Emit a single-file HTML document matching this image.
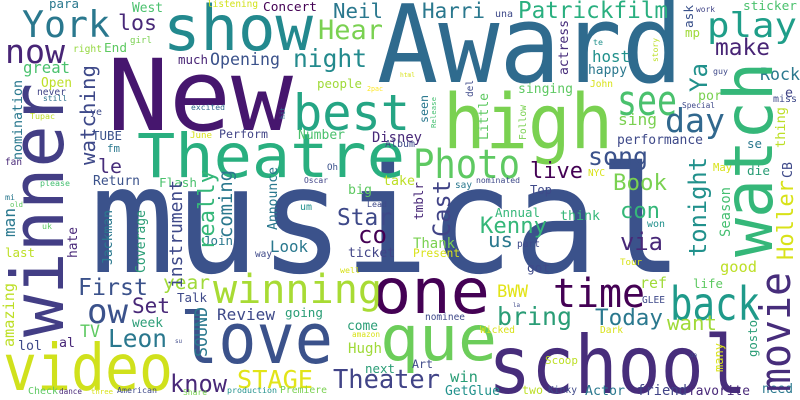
<!DOCTYPE html>
<html><head><meta charset="utf-8"><style>
html,body{margin:0;padding:0;background:#fff;}
svg{display:block;}
text{font-family:"DejaVu Sans Mono","Liberation Mono",monospace;}
</style></head><body>
<svg id="cloud" width="800" height="400" viewBox="0 0 800 400" xmlns="http://www.w3.org/2000/svg">
<rect width="800" height="400" fill="#ffffff"/>
</svg>
<script>
// horizontal words: [text, x0, baseline, width, color, fontSize(optional)]
const hWords = [
 ["New",107,130,186,"#46166e",99],
 ["Award",377,82,306,"#2f6b8e",108],
 ["show",163,50,150,"#23898e",62],
 ["musical",90,272,593,"#3b528b",148],
 ["high",443,148,170,"#7ad151",76],
 ["school",488,393,259,"#472d7b",80],
 ["love",180,363,153,"#3b528b",70],
 ["Theatre",137,177,268,"#29af7f",61],
 ["best",293,130,117,"#25a584",50],
 ["one",372,313,118,"#440154",62],
 ["que",380,360,117,"#6ccd5a",62],
 ["video",3,390,170,"#d0e11c",64],
 ["back",670,320,90,"#1f9a8a",46],
 ["time",553,307,92,"#440154",40],
 ["Photo",413,178,107,"#5ec962",40],
 ["see",617,115,60,"#4ac16d",42],
 ["play",707,37,90,"#1f9e89",34],
 ["York",22,37,88,"#2a788e"],
 ["now",5,63,60,"#482576"],
 ["para",49,8,30,"#2a788e"],
 ["los",118,30,39,"#482878"],
 ["West",132,12,31,"#4ac16d"],
 ["listening",207,7,51,"#d2e21b"],
 ["Concert",263,11,54,"#440154"],
 ["Neil",333,18,50,"#2a788e"],
 ["Hear",318,39,65,"#7ad151"],
 ["night",293,67,74,"#238a8d"],
 ["right",73,52,29,"#95d840"],
 ["End",104,52,23,"#5ec962"],
 ["girl",130,43,22,"#7ad151"],
 ["much",178,64,30,"#482475"],
 ["Opening",210,65,70,"#3b528b"],
 ["great",23,73,47,"#4ac16d"],
 ["Open",41,87,31,"#bddf26"],
 ["never",37,95,29,"#414487"],
 ["still",43,101,24,"#2c728e"],
 ["Tupac",30,119,25,"#bddf26"],
 ["ye",90,115,12,"#3e4a89"],
 ["excited",191,110,34,"#31688e"],
 ["people",317,88,45,"#a0da39"],
 ["2pac",367,91,16,"#fde725"],
 ["TUBE",92,140,30,"#3b528b"],
 ["Perform",219,138,49,"#414487"],
 ["June",190,138,22,"#d8e219"],
 ["Number",298,139,47,"#4ac16d"],
 ["Disney",372,142,50,"#482878"],
 ["fm",107,152,13,"#2a788e"],
 ["le",98,173,24,"#472d7b"],
 ["fan",5,165,17,"#482878"],
 ["Return",93,185,47,"#3b528b"],
 ["Flash",159,187,38,"#4ac16d"],
 ["please",40,186,30,"#44bf70"],
 ["Oh",327,170,11,"#3b528b"],
 ["Oscar",304,183,24,"#414487"],
 ["big",348,194,24,"#5ec962"],
 ["take",383,185,32,"#bddf26"],
 ["mi",5,200,10,"#2a788e"],
 ["Harri",422,18,63,"#2a788e"],
 ["una",495,17,18,"#3e4989"],
 ["Patrickfilm",518,18,150,"#29af7f"],
 ["work",696,12,19,"#414487"],
 ["sticker",743,10,54,"#4ac16d"],
 ["mp",685,37,15,"#a0da39"],
 ["make",715,55,55,"#482475"],
 ["te",593,45,10,"#21918c"],
 ["host",592,62,38,"#21918c"],
 ["happy",588,74,39,"#2a788e"],
 ["guy",713,74,15,"#3e4989"],
 ["Rock",760,80,40,"#2a788e"],
 ["html",400,77,15,"#d8e219"],
 ["John",590,87,23,"#d8e219"],
 ["singing",518,93,55,"#5ec962"],
 ["por",698,100,24,"#7ad151"],
 ["e",785,97,8,"#414487"],
 ["miss",773,102,24,"#3e4989"],
 ["Special",682,108,33,"#3e4989"],
 ["sing",618,125,39,"#7ad151"],
 ["day",665,132,60,"#31688e"],
 ["performance",617,144,86,"#3e4989"],
 ["se",747,148,15,"#2a788e"],
 ["Album",385,147,30,"#3e4989"],
 ["song",588,165,60,"#3b528b"],
 ["live",530,178,53,"#440154"],
 ["Book",613,190,54,"#7ad151"],
 ["NYC",588,176,17,"#d8e219"],
 ["May",713,171,19,"#d8e219"],
 ["die",747,175,23,"#2a9d76"],
 ["nominated",476,183,44,"#3e4989"],
 ["say",455,188,17,"#2a788e"],
 ["Top",530,194,22,"#3e4989"],
 ["con",620,218,40,"#35b779"],
 ["via",620,250,43,"#482878"],
 ["won",647,227,18,"#21918c"],
 ["good",720,272,37,"#bddf26"],
 ["life",693,288,30,"#5ec962"],
 ["ref",640,288,27,"#a0da39"],
 ["Tour",620,265,22,"#d8e219"],
 ["old",10,207,13,"#5ec962"],
 ["uk",42,229,10,"#5ec962"],
 ["last",5,257,30,"#bddf26"],
 ["Star",337,225,55,"#3e4989"],
 ["co",358,243,29,"#440154"],
 ["Join",203,245,30,"#2a788e"],
 ["Look",270,252,38,"#2a788e"],
 ["ticket",348,257,47,"#414487"],
 ["way",255,257,17,"#3e4989"],
 ["um",300,210,12,"#21918c"],
 ["Lead",367,207,20,"#3e4989"],
 ["well",340,273,20,"#d8e219"],
 ["First",78,295,70,"#3b528b"],
 ["year",163,289,47,"#a0da39"],
 ["winning",213,303,169,"#a8db34"],
 ["ow",87,323,41,"#3b528b"],
 ["Set",132,313,38,"#482878"],
 ["Talk",177,302,30,"#3e4989"],
 ["Review",217,320,58,"#3e4989"],
 ["going",285,317,38,"#2a9d76"],
 ["Leon",108,347,59,"#2a788e"],
 ["TV",80,337,20,"#5ec962"],
 ["week",132,327,31,"#2a9d76"],
 ["come",347,330,31,"#2a9d76"],
 ["Hugh",348,353,34,"#a0da39"],
 ["lol",18,350,24,"#3e4989"],
 ["al",59,347,16,"#482878"],
 ["su",175,343,7,"#3e4989"],
 ["amazon",352,337,28,"#d8e219"],
 ["know",170,392,57,"#482878"],
 ["STAGE",237,388,76,"#e2e418"],
 ["Theater",333,388,107,"#414487"],
 ["next",365,373,30,"#2a9d76"],
 ["Check",28,394,30,"#5ec962"],
 ["dance",59,394,23,"#482878"],
 ["three",91,394,22,"#d8e219"],
 ["American",117,393,40,"#3e4989"],
 ["Share",183,395,24,"#7ad151"],
 ["production",227,393,50,"#21918c"],
 ["Premiere",280,393,47,"#7ad151"],
 ["Annual",495,217,45,"#35b779"],
 ["Kenny",480,233,67,"#35b779"],
 ["us",488,247,25,"#2a788e"],
 ["think",560,220,40,"#35b779"],
 ["part",517,247,23,"#3e4989"],
 ["Thank",413,248,42,"#7ad151"],
 ["Present",413,257,47,"#d8e219"],
 ["got",527,272,23,"#3e4989"],
 ["BWW",497,297,31,"#e2e418"],
 ["bring",497,325,75,"#2a9d76"],
 ["Today",595,325,68,"#2a788e"],
 ["want",667,330,50,"#a0da39"],
 ["GLEE",642,303,23,"#3e4989"],
 ["la",513,307,7,"#3e4989"],
 ["nominee",425,320,40,"#3e4989"],
 ["Wicked",480,333,35,"#d8e219"],
 ["Dark",600,333,23,"#d8e219"],
 ["da",690,357,7,"#3e4989"],
 ["Art",412,368,21,"#3e4989"],
 ["Scoop",545,364,33,"#bddf26"],
 ["win",450,382,28,"#2a9d76"],
 ["GetGlue",445,395,55,"#21918c"],
 ["two",522,394,21,"#bddf26"],
 ["Kinky",548,393,29,"#3e4989"],
 ["Actor",585,395,40,"#2a788e"],
 ["friend",637,395,50,"#414487"],
 ["favorite",688,395,62,"#482878"],
 ["need",762,393,31,"#2a788e"]
];
// vertical words (read bottom to top): [text, baselineX, yTop, yBottom, color, fontSize(optional)]
const vWords = [
 ["winner",63,83,337,"#433e85",72],
 ["watch",772,62,257,"#35b779",68],
 ["movie",790,272,392,"#472d7b",42],
 ["watching",95,65,165,"#3e4989"],
 ["nomination",22,80,160,"#2a788e"],
 ["hit",285,107,119,"#2c728e"],
 ["Announce",277,167,230,"#2a788e"],
 ["really",214,170,250,"#35b779"],
 ["coming",232,170,238,"#2a788e"],
 ["instrument",182,180,288,"#3e4989"],
 ["ask",693,5,28,"#3b528b"],
 ["actress",568,20,75,"#472d7b"],
 ["story",658,38,62,"#bddf26"],
 ["Ya",707,63,92,"#21918c"],
 ["del",473,80,97,"#3e4989"],
 ["seen",428,95,123,"#2a788e"],
 ["Little",488,93,140,"#5ec962"],
 ["Release",436,97,128,"#44bf70"],
 ["Follow",526,105,140,"#7ad151"],
 ["thing",785,107,148,"#bddf26"],
 ["CB",792,162,178,"#3e4989"],
 ["tonight",706,157,257,"#21918c"],
 ["Holler",793,180,260,"#d8e219"],
 ["Season",730,187,237,"#44bf70"],
 ["man",15,208,237,"#2a788e"],
 ["hate",77,227,258,"#482878"],
 ["Jackman",112,210,265,"#2a788e"],
 ["Coverage",145,210,273,"#2a9d76"],
 ["amazing",14,283,347,"#bddf26"],
 ["SOUND",207,307,357,"#2a788e"],
 ["tmblr",423,182,220,"#482878"],
 ["Cast",450,180,237,"#414487"],
 ["gosto",757,320,357,"#2a9d76"],
 ["many",723,343,372,"#d8e219"]
];
const NS = "http://www.w3.org/2000/svg";
const svg = document.getElementById("cloud");
function slug(s){return s.toLowerCase().replace(/[^a-z0-9]+/g,"-");}
hWords.forEach(w => {
  const [t,x,y,wd,c,f] = w;
  const fs = f || wd/(0.602*t.length);
  const el = document.createElementNS(NS,"text");
  el.setAttribute("x",x); el.setAttribute("y",y);
  el.setAttribute("font-size",fs.toFixed(1));
  el.setAttribute("fill",c);
  el.setAttribute("textLength",wd);
  el.setAttribute("lengthAdjust","spacingAndGlyphs");
  
  
  el.textContent = t;
  svg.appendChild(el);
});
vWords.forEach(w => {
  const [t,bx,y0,y1,c,f] = w;
  const len = y1 - y0;
  const fs = f || len/(0.602*t.length);
  const el = document.createElementNS(NS,"text");
  el.setAttribute("x",bx); el.setAttribute("y",y1);
  el.setAttribute("transform","rotate(-90 "+bx+" "+y1+")");
  el.setAttribute("font-size",fs.toFixed(1));
  el.setAttribute("fill",c);
  el.setAttribute("textLength",len);
  el.setAttribute("lengthAdjust","spacingAndGlyphs");
  
  
  el.textContent = t;
  svg.appendChild(el);
});
</script>
</body></html>
